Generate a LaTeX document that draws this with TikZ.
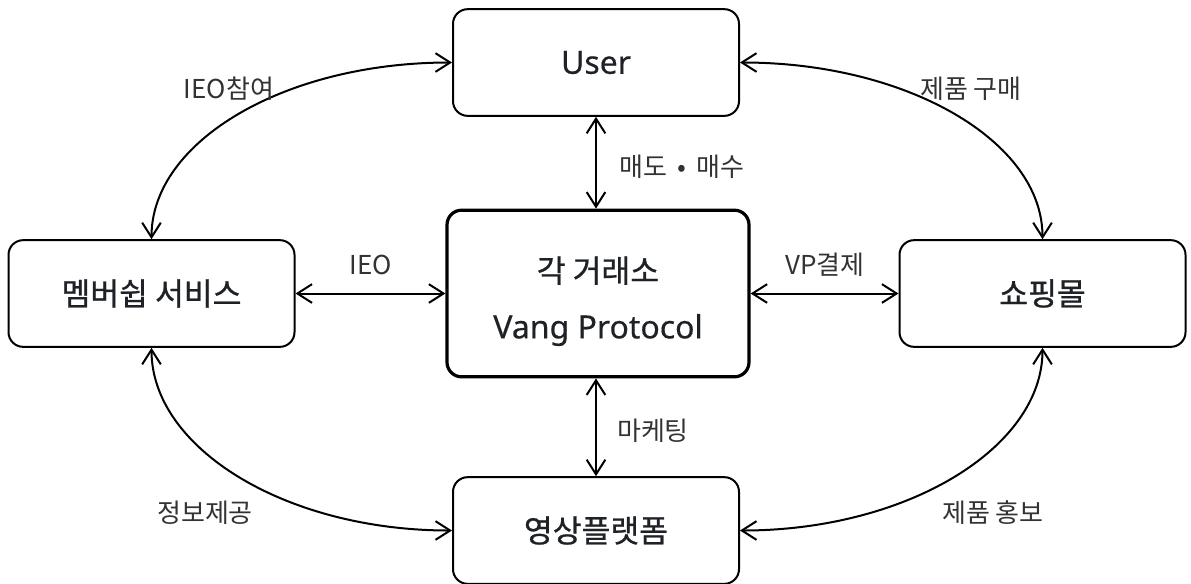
\documentclass[tikz,border=0pt]{standalone}
\usepackage{fontspec}
\setmainfont{Noto Sans CJK KR}
\newfontfamily\lat{Noto Sans}[FakeBold=0.4]
\newfontfamily\cjkm{Noto Sans CJK KR}[FakeBold=0.8]
\usetikzlibrary{arrows.meta}
\definecolor{txt}{HTML}{1E2125}
\definecolor{lbl}{HTML}{333333}
\newcommand{\kb}[1]{{\cjkm\fontsize{23.5}{42}\selectfont #1}}
\newcommand{\lb}[1]{{\lat\fontsize{24}{42}\selectfont #1}}
\tikzset{
  box/.style={draw=black, line width=1.5pt, rounded corners=11pt, fill=white,
    minimum width=214.5pt, minimum height=80pt, inner sep=0pt,
    font=\fontsize{21}{42}\selectfont, text=txt, align=center},
  mainbox/.style={box, line width=2.4pt, minimum width=226.5pt, minimum height=125pt},
  arr/.style={line width=1.5pt, {Straight Barb[length=11pt,width=14pt,line width=1.5pt]}-{Straight Barb[length=11pt,width=14pt,line width=1.5pt]}},
  lab/.style={font=\fontsize{19.5}{23}\selectfont, text=lbl, inner sep=0pt}
}
\begin{document}
\begin{tikzpicture}[x=0.75pt,y=-0.75pt]
\useasboundingbox (0,0) rectangle (1191,583);
\node[box] (user) at (596,62.5) {\lb{User}};
\node[mainbox] (ex) at (598,293.5) {\rule{0pt}{31pt}\kb{각 거래소}\\\lb{Vang Protocol}};
\node[box] (mem) at (151.5,293.5) {\kb{멤버쉽 서비스}};
\node[box] (shop) at (1042.5,293.5) {\kb{쇼핑몰}};
\node[box] (vid) at (596,530.5) {\kb{영상플랫폼}};

\draw[arr] (user.south) -- (user.south |- ex.north);
\draw[arr] (ex.south -| vid.north) -- (vid.north);
\draw[arr] (mem.east) -- (ex.west |- mem.east);
\draw[arr] (ex.east |- shop.west) -- (shop.west);

\draw[arr] (mem.north) .. controls +(0,-98) and +(-167,0) .. (user.west);
\draw[arr] (user.east) .. controls +(167,0) and +(0,-98) .. (shop.north);
\draw[arr] (mem.south) .. controls +(0,100) and +(-167,0) .. (vid.west);
\draw[arr] (shop.south) .. controls +(0,100) and +(167,0) .. (vid.east);

\node[lab] (l1) at (229,89) {IEO참여};
\node[lab] (l2) at (971,89) {제품 구매};
\node[lab] (l3) at (682,167) {매도 \,•\, 매수};
\node[lab] (l4) at (371,265) {IEO};
\node[lab] (l5) at (825,265) {VP결제};
\node[lab] (l6) at (653,431) {마케팅};
\node[lab] (l7) at (205,513) {정보제공};
\node[lab] (l8) at (993,513) {제품 홍보};
\end{tikzpicture}
\end{document}
